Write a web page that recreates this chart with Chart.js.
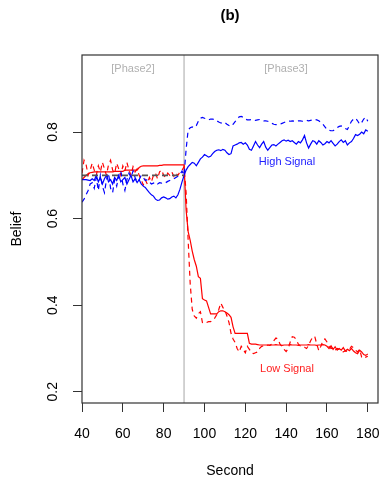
<!DOCTYPE html>
<html>
<head>
<meta charset="utf-8">
<script src="https://cdn.jsdelivr.net/npm/chart.js@4.4.1/dist/chart.umd.min.js"></script>
<style>
html,body{margin:0;padding:0;background:#fff;}
canvas{display:block;}
</style>
</head>
<body>
<canvas id="c" width="382" height="479" style="width:382px;height:479px"></canvas>
<script>
// time axis (seconds 40..180)
const seconds = Array.from({length: 141}, (_, i) => 40 + i);
const xTicks = [40, 60, 80, 100, 120, 140, 160, 180];
const yTicks = [0.2, 0.4, 0.6, 0.8];
const phaseBoundary = 90;
const referenceLevel = 0.70;
const referenceSpan = [40, 90];

const lowSignalSolid = [
0.690,0.695,0.700,0.703,0.706,0.707,0.708,0.708,0.708,0.708,
0.708,0.708,0.708,0.708,0.708,0.708,0.709,0.709,0.709,0.709,
0.709,0.712,0.712,0.712,0.712,0.712,0.712,0.712,0.718,0.721,
0.722,0.722,0.722,0.722,0.722,0.722,0.722,0.722,0.723,0.723,
0.724,0.724,0.724,0.724,0.724,0.724,0.724,0.724,0.724,0.724,
0.724,0.620,0.570,0.550,0.525,0.505,0.490,0.466,0.462,0.415,
0.412,0.410,0.395,0.380,0.380,0.380,0.380,0.385,0.387,0.387,
0.385,0.382,0.378,0.372,0.350,0.335,0.335,0.335,0.335,0.335,
0.335,0.335,0.312,0.310,0.310,0.310,0.309,0.308,0.308,0.308,
0.308,0.308,0.307,0.308,0.308,0.309,0.308,0.308,0.307,0.308,
0.308,0.308,0.309,0.308,0.308,0.308,0.307,0.308,0.308,0.308,
0.308,0.309,0.308,0.308,0.308,0.307,0.308,0.308,0.309,0.308,
0.305,0.300,0.306,0.298,0.304,0.296,0.300,0.296,0.302,0.294,
0.298,0.295,0.300,0.294,0.290,0.288,0.296,0.292,0.286,0.284,
0.287];

const lowSignalDashed = [
0.705,0.735,0.725,0.700,0.712,0.728,0.712,0.700,0.722,0.708,
0.730,0.715,0.700,0.725,0.735,0.712,0.705,0.728,0.715,0.700,
0.722,0.710,0.730,0.712,0.700,0.720,0.708,0.715,0.700,0.690,
0.678,0.690,0.680,0.695,0.685,0.700,0.705,0.692,0.708,0.712,
0.700,0.695,0.705,0.700,0.708,0.698,0.705,0.700,0.708,0.712,
0.720,0.660,0.550,0.450,0.390,0.375,0.370,0.380,0.385,0.360,
0.358,0.360,0.362,0.362,0.365,0.370,0.378,0.390,0.405,0.395,
0.388,0.375,0.360,0.335,0.322,0.314,0.300,0.292,0.305,0.298,
0.290,0.305,0.298,0.290,0.288,0.290,0.292,0.300,0.305,0.306,
0.305,0.308,0.308,0.310,0.318,0.324,0.322,0.310,0.305,0.298,
0.293,0.300,0.315,0.327,0.326,0.320,0.310,0.306,0.305,0.303,
0.300,0.307,0.318,0.326,0.328,0.310,0.295,0.305,0.318,0.322,
0.315,0.305,0.300,0.302,0.296,0.300,0.298,0.294,0.292,0.295,
0.293,0.298,0.305,0.302,0.296,0.292,0.298,0.280,0.277,0.280,
0.282];

const highSignalSolid = [
0.690,0.690,0.690,0.689,0.688,0.692,0.688,0.700,0.685,0.695,
0.680,0.692,0.700,0.685,0.690,0.680,0.695,0.688,0.700,0.685,
0.690,0.695,0.680,0.690,0.700,0.685,0.692,0.683,0.690,0.680,
0.675,0.672,0.666,0.660,0.655,0.652,0.645,0.642,0.643,0.648,
0.650,0.648,0.645,0.646,0.650,0.652,0.648,0.655,0.668,0.685,
0.700,0.712,0.720,0.725,0.730,0.728,0.722,0.730,0.738,0.742,
0.748,0.745,0.742,0.744,0.750,0.755,0.758,0.759,0.757,0.760,
0.758,0.752,0.748,0.750,0.768,0.770,0.772,0.775,0.776,0.772,
0.775,0.770,0.760,0.758,0.768,0.778,0.770,0.764,0.772,0.778,
0.765,0.758,0.764,0.770,0.771,0.768,0.772,0.776,0.780,0.782,
0.779,0.781,0.778,0.780,0.776,0.772,0.778,0.775,0.782,0.792,
0.775,0.763,0.772,0.780,0.778,0.772,0.780,0.776,0.770,0.773,
0.778,0.775,0.780,0.774,0.768,0.772,0.778,0.782,0.776,0.780,
0.770,0.775,0.778,0.785,0.794,0.792,0.795,0.800,0.796,0.805,
0.802];

const highSignalDashed = [
0.638,0.645,0.655,0.665,0.680,0.683,0.670,0.695,0.665,0.700,
0.675,0.660,0.690,0.705,0.670,0.660,0.690,0.675,0.700,0.710,
0.680,0.665,0.690,0.705,0.695,0.710,0.695,0.685,0.690,0.700,
0.695,0.688,0.690,0.685,0.680,0.682,0.684,0.680,0.683,0.682,
0.684,0.683,0.686,0.688,0.690,0.692,0.695,0.698,0.702,0.710,
0.700,0.760,0.805,0.810,0.812,0.810,0.815,0.825,0.832,0.834,
0.832,0.830,0.828,0.830,0.830,0.829,0.826,0.823,0.821,0.820,
0.822,0.818,0.815,0.813,0.818,0.824,0.830,0.835,0.836,0.834,
0.830,0.828,0.828,0.829,0.828,0.827,0.828,0.829,0.828,0.826,
0.826,0.825,0.822,0.820,0.818,0.817,0.817,0.818,0.820,0.822,
0.824,0.825,0.825,0.826,0.825,0.825,0.826,0.826,0.825,0.826,
0.827,0.826,0.827,0.828,0.829,0.828,0.826,0.822,0.818,0.812,
0.806,0.804,0.803,0.803,0.806,0.810,0.813,0.814,0.812,0.808,
0.806,0.815,0.825,0.830,0.832,0.826,0.818,0.822,0.830,0.834,
0.825];

const FONT = "'Liberation Sans', Arial, Helvetica, sans-serif";
const toPts = arr => arr.map((v, i) => ({x: seconds[i], y: v}));

const overlay = {
  id: 'overlay',
  beforeDatasetsDraw(chart) {
    const {ctx, chartArea: a, scales: {x}} = chart;
    const px = x.getPixelForValue(phaseBoundary);
    ctx.save();
    ctx.strokeStyle = '#c4c4c4';
    ctx.lineWidth = 1.5;
    ctx.beginPath();
    ctx.moveTo(px, a.top);
    ctx.lineTo(px, a.bottom);
    ctx.stroke();
    ctx.restore();
  },
  afterDraw(chart) {
    const {ctx, chartArea: a, scales: {x, y}} = chart;
    ctx.save();
    // box
    ctx.strokeStyle = '#333';
    ctx.lineWidth = 1.2;
    ctx.strokeRect(a.left, a.top, a.right - a.left, a.bottom - a.top);
    // y tick labels (rotated)
    ctx.fillStyle = '#000';
    ctx.font = '14px ' + FONT;
    ctx.textAlign = 'center';
    ctx.textBaseline = 'middle';
    yTicks.forEach(v => {
      ctx.save();
      ctx.translate(53, y.getPixelForValue(v));
      ctx.rotate(-Math.PI / 2);
      ctx.fillText(v.toFixed(1), 0, 0);
      ctx.restore();
    });
    // axis titles
    const cx = (a.left + a.right) / 2;
    ctx.fillText('Second', cx, 471);
    ctx.save();
    ctx.translate(17, (a.top + a.bottom) / 2);
    ctx.rotate(-Math.PI / 2);
    ctx.fillText('Belief', 0, 0);
    ctx.restore();
    // main title
    ctx.font = 'bold 15px ' + FONT;
    ctx.fillText('(b)', cx, 16);
    // phase labels
    ctx.font = '11px ' + FONT;
    ctx.fillStyle = '#b0b0b0';
    ctx.fillText('[Phase2]', 133, 69);
    ctx.fillText('[Phase3]', 286, 69);
    // series labels
    ctx.font = '11px ' + FONT;
    ctx.fillStyle = '#2020ff';
    ctx.fillText('High Signal', 287, 162);
    ctx.fillStyle = '#ff2020';
    ctx.fillText('Low Signal', 287, 369);
    ctx.restore();
  }
};

new Chart(document.getElementById('c'), {
  type: 'line',
  data: {
    datasets: [
      {data: [{x: referenceSpan[0], y: referenceLevel}, {x: referenceSpan[1], y: referenceLevel}],
       borderColor: '#555', borderWidth: 1.8, borderDash: [6, 4]},
      {data: toPts(highSignalSolid), borderColor: '#0000ff', borderWidth: 1.2},
      {data: toPts(highSignalDashed), borderColor: '#0000ff', borderWidth: 1.2, borderDash: [5, 4]},
      {data: toPts(lowSignalSolid), borderColor: '#ff0000', borderWidth: 1.2},
      {data: toPts(lowSignalDashed), borderColor: '#ff0000', borderWidth: 1.2, borderDash: [5, 4]}
    ]
  },
  options: {
    responsive: false,
    animation: false,
    devicePixelRatio: 1,
    parsing: true,
    elements: {point: {radius: 0}, line: {tension: 0, fill: false}},
    layout: {padding: {top: 55, right: 4, left: 0, bottom: 0}},
    plugins: {legend: {display: false}, tooltip: {enabled: false}, title: {display: false}},
    scales: {
      x: {
        type: 'linear', min: 40, max: 185,
        afterBuildTicks: s => { s.ticks = xTicks.map(v => ({value: v})); },
        afterFit: s => { s.height = 76; s.paddingLeft = 0; s.paddingRight = 0; },
        border: {display: false},
        grid: {drawOnChartArea: false, drawTicks: true, tickLength: 9, color: '#333', lineWidth: 1},
        ticks: {font: {size: 14, family: FONT}, color: '#000', padding: 14, maxRotation: 0, autoSkip: false}
      },
      y: {
        type: 'linear', min: 0.174, max: 0.978,
        afterBuildTicks: s => { s.ticks = yTicks.map(v => ({value: v})); },
        afterFit: s => { s.width = 82; s.paddingTop = 0; s.paddingBottom = 0; },
        border: {display: false},
        grid: {drawOnChartArea: false, drawTicks: true, tickLength: 9, color: '#333', lineWidth: 1},
        ticks: {display: false}
      }
    }
  },
  plugins: [overlay]
});
</script>
</body>
</html>
